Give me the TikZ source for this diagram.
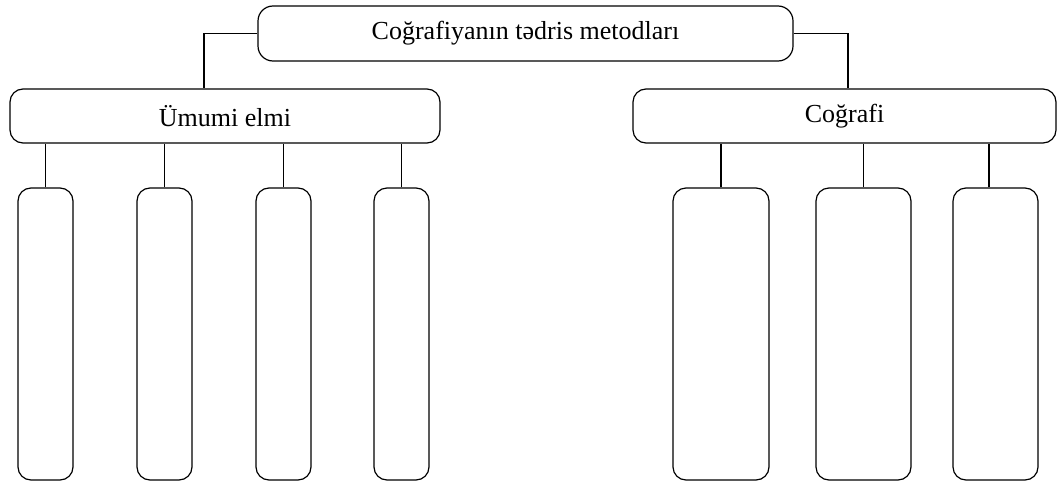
\documentclass[tikz,border=0pt]{standalone}
\usepackage{fontspec}
\setmainfont{Liberation Serif}
\begin{document}
\begin{tikzpicture}[x=1pt,y=-1pt,
  box/.style={draw, line width=1.2pt, rounded corners=13pt, inner sep=0pt,
    font=\fontsize{26}{30}\selectfont},
  kid/.style={box, minimum height=292pt},
  link/.style={draw, line width=1.2pt}]
\useasboundingbox (0,0) rectangle (1060,482);
\node[box, rounded corners=15pt, minimum width=535pt, minimum height=55pt] (top) at (525.5,33.5) {Coğrafiyanın tədris metodları};
\node[box, minimum width=430pt, minimum height=54pt] (ume) at (225,116) {Ümumi elmi};
\node[box, minimum width=423pt, minimum height=54pt] (geo) at (844.5,116) {Coğrafi};
\node[kid, minimum width=55pt] (u1) at (45.5,334) {};
\node[kid, minimum width=55pt] (u2) at (164.5,334) {};
\node[kid, minimum width=55pt] (u3) at (283.5,334) {};
\node[kid, minimum width=55pt] (u4) at (401.5,334) {};
\node[kid, minimum width=96pt] (g1) at (721,334) {};
\node[kid, minimum width=95pt] (g2) at (863.5,334) {};
\node[kid, minimum width=85pt] (g3) at (995.5,334) {};
\draw[link] (top.west) -| ([xshift=-21pt]ume.north);
\draw[link] (top.east) -| ([xshift=3.5pt]geo.north);
\foreach \k in {u1,u2,u3,u4,g1,g2}{
  \draw[link] (\k.north) -- (\k.north |- ume.south);
}
\draw[link] ([xshift=-6.5pt]g3.north) -- ([xshift=-6.5pt]g3.north |- geo.south);
\end{tikzpicture}
\end{document}
